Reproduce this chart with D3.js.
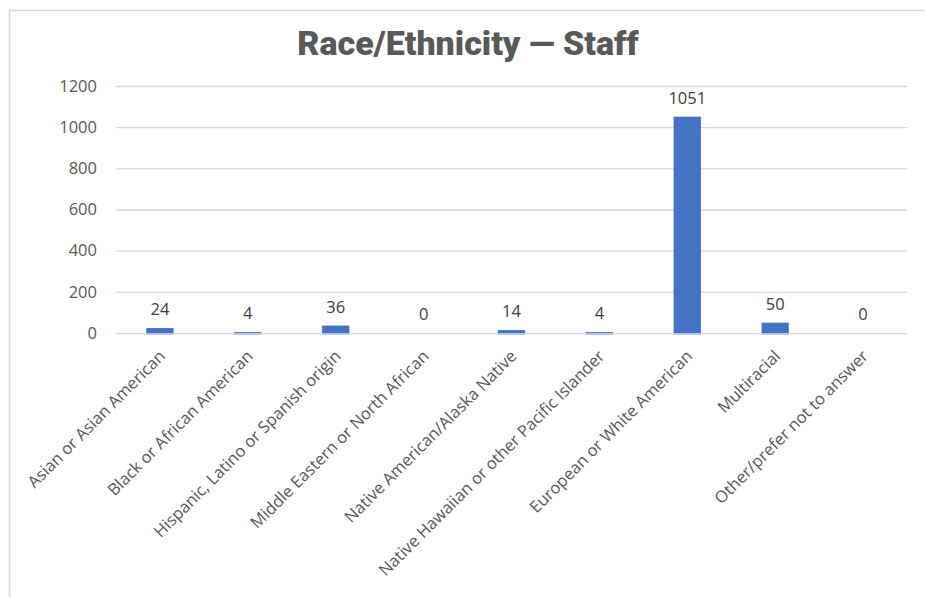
<!DOCTYPE html>
<html><head><meta charset="utf-8">
<script src="https://cdn.jsdelivr.net/npm/d3@7"></script>
<style>body{margin:0;background:#fff;} svg{display:block;}</style>
</head><body>
<svg id="c" width="925" height="597"></svg>
<script>
const categories = ["Asian or Asian American","Black or African American","Hispanic, Latino or Spanish origin","Middle Eastern or North African","Native American/Alaska Native","Native Hawaiian or other Pacific Islander","European or White American","Multiracial","Other/prefer not to answer"];
const values = [24,4,36,0,14,4,1051,50,0];
const yTicks = [0,200,400,600,800,1000,1200];
const title = "Race/Ethnicity — Staff";

const svg = d3.select("#c");
svg.append("rect").attr("x",9.5).attr("y",10.5).attr("width",940).attr("height",620)
  .attr("fill","none").attr("stroke","#d9d9d9").attr("stroke-width",1.5);

const m = {l:116, r:907, t:86, b:333};
const x = d3.scaleBand().domain(categories).range([m.l,m.r]).paddingInner(0.69).paddingOuter(0.345);
const y = d3.scaleLinear().domain([0,1200]).range([m.b,m.t]);

svg.append("text").attr("x",468).attr("y",55).attr("text-anchor","middle")
  .attr("font-family","Roboto, 'Open Sans', sans-serif").attr("font-weight",900).attr("font-size",34)
  .attr("fill","#595959").text(title);

const ya = svg.append("g").attr("transform",`translate(${m.l},0)`)
  .call(d3.axisLeft(y).tickValues(yTicks).tickFormat(d3.format("d")).tickSize(-(m.r-m.l)).tickPadding(19));
ya.select(".domain").remove();
ya.selectAll(".tick line").attr("stroke","#d9d9d9").attr("stroke-width",1.3);
ya.selectAll(".tick text").attr("font-family","'Open Sans', sans-serif").attr("font-size",16.5).attr("fill","#595959");

const data = values.map((v,i)=>({c:categories[i], v}));
const g = svg.append("g");
g.selectAll("rect.base").data(data.filter(d=>d.v>0)).join("rect")
  .attr("x",d=>x(d.c)).attr("width",x.bandwidth())
  .attr("y",y(0)-1).attr("height",3).attr("fill","#b4c7e7");
g.selectAll("rect.bar").data(data).join("rect")
  .attr("x",d=>x(d.c)).attr("width",x.bandwidth())
  .attr("y",d=>y(d.v)).attr("height",d=>y(0)-y(d.v)).attr("fill","#4472c4");

g.selectAll("text.v").data(data).join("text")
  .attr("x",d=>x(d.c)+x.bandwidth()/2).attr("y",d=>y(d.v)-13)
  .attr("text-anchor","middle").attr("font-family","'Open Sans', sans-serif").attr("font-size",16.5)
  .attr("fill","#404040").text(d=>d.v);

svg.append("g").selectAll("text").data(categories).join("text")
  .attr("transform",d=>`translate(${x(d)+x.bandwidth()/2-2},${m.b+16}) rotate(-45)`)
  .attr("text-anchor","end").attr("dy","0.7em")
  .attr("font-family","'Open Sans', sans-serif").attr("font-size",16.5).attr("fill","#595959")
  .text(d=>d);
</script>
</body></html>
